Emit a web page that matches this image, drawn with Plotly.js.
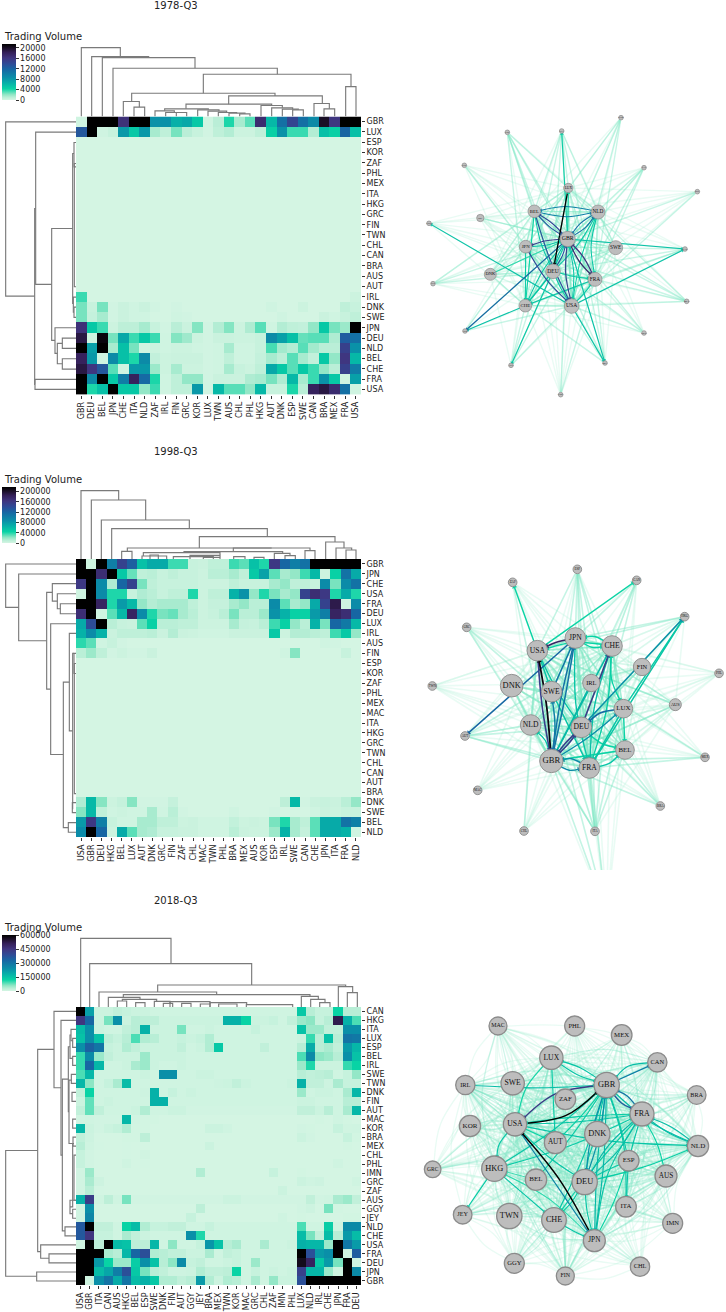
<!DOCTYPE html>
<html><head><meta charset="utf-8">
<script src="https://cdn.plot.ly/plotly-3.0.1.min.js"></script>
<style>html,body{margin:0;padding:0;background:#fff}#g{width:726px;height:1312px}</style>
</head><body><div id="g"></div>
<script>
// ---------- data: 1978-Q3 (values in thousands) ----------
const cols78=["GBR","DEU","BEL","JPN","CHE","ITA","NLD","ZAF","IRL","FIN","GRC","KOR","LUX","TWN","AUS","CHL","PHL","HKG","AUT","DNK","ESP","SWE","CAN","BRA","MEX","FRA","USA"];
const rows78=["GBR","LUX","ESP","KOR","ZAF","PHL","MEX","ITA","HKG","GRC","FIN","TWN","CHL","CAN","BRA","AUS","AUT","IRL","DNK","SWE","JPN","DEU","NLD","BEL","CHE","FRA","USA"];
const sp=(cols,o)=>cols.map(c=>o[c]||0);
const S1=o=>sp(cols78,o),S2=o=>sp(cols98,o),S3=o=>sp(cols18,o);
const z78=[
[0.2,22,22,22,16.5,22,22,8.5,8.5,6.5,7,5,0.2,1,4,1.5,3,17,6,11,14.5,11,9,20,16,22,22],
[13,22,0.2,0.5,8,5,8,1.5,0.8,2.5,1,0.5,0.1,0.8,1.2,0.3,0.3,0.8,4.5,8.5,3.5,3.5,1.2,5.5,4.5,12,5.5],
S1({}),S1({}),S1({}),S1({}),S1({}),S1({}),S1({}),S1({}),S1({}),S1({}),S1({}),S1({}),S1({}),S1({}),S1({}),
S1({GBR:3.5,USA:.3}),
S1({GBR:2.5,DEU:.5,BEL:2.5,JPN:.1,CHE:.4,ITA:.2,NLD:.4,ZAF:.1,FIN:.1,AUT:.2,SWE:.3,FRA:.8,USA:.5}),
S1({GBR:2.5,DEU:.6,BEL:1.5,JPN:.1,CHE:.4,ITA:.2,NLD:.2,FIN:.2,GRC:.1,DNK:.2,BRA:.4,MEX:.2,FRA:.5,USA:.8}),
[16.5,5,3.5,.3,.9,.9,1.5,.5,.1,1,.4,2.3,.1,1.2,2.3,.3,1.3,3,.2,1.2,.8,.7,2,5,2.5,1.8,22],
[19,.2,21,2.5,7,3.5,5,3.5,.2,2.3,1.7,.3,.1,.4,.4,.3,.3,.5,9,7.5,5.5,2.8,3,3,1.3,12.5,11],
[22,7.5,22,1.5,5.5,2.5,.2,.3,.2,.3,.3,.2,.1,.2,1.5,.2,.2,.5,3.3,1.6,1.2,3,1.6,1,1,15,8.5],
[18,8,.2,9,5.5,4,9,.7,.3,.4,.4,.4,.1,.2,.8,.2,.2,.6,1.5,.9,3,1.5,.7,5,2,16,6],
[19,16,13,3,.2,8,8,1.8,.3,1.5,.3,.3,.1,.2,1.5,.5,.3,.8,7,5,3,5,3.5,2,1,15,10],
[22,9,22,5,10,18,11.5,4,.2,.8,2,2,.1,.4,.4,.4,1.3,1.5,2.5,1.3,6,1.5,3.5,8.5,5,.2,7.5],
[22,4,5.5,22,5,5,2,3.5,.2,.8,.8,8,.1,6,3,3,2,6,.5,.5,4,1,18,19,17,11,.2]];
// ---------- data: 1998-Q3 (values in ten-thousands) ----------
const cols98=["USA","GBR","DEU","HKG","BEL","LUX","AUT","DNK","GRC","FIN","ZAF","CHL","MAC","TWN","PHL","BRA","MEX","AUS","KOR","ESP","IRL","SWE","CAN","CHE","JPN","ITA","FRA","NLD"];
const rows98=["GBR","JPN","CHE","USA","FRA","DEU","LUX","IRL","AUS","FIN","ESP","KOR","ZAF","PHL","MEX","MAC","ITA","HKG","GRC","TWN","CHL","CAN","AUT","BRA","DNK","SWE","BEL","NLD"];
const z98=[
[22,.2,22,10,15,12.5,5.5,7,7,3.5,3.5,.5,.4,.8,.8,3.5,3,5.5,4,16,12,10,11,22,22,22,22,22],
[22,22,17,22,5,2.8,.8,1,.5,.8,.5,.5,.3,1,1,1.5,.8,5,7.5,3,1.5,2,3.5,6,.3,4.5,11,7],
[16,22,9,1.3,12,15,2.5,.8,.5,.5,.5,.5,.3,.3,.3,.8,.5,.5,.5,1.5,2,.8,.8,.5,9,2.5,9,11],
[.2,22,9,4,4,.5,1.3,1,.5,.8,.8,4,.3,.8,.8,6.5,8.5,2,4,2.5,1.5,2,15,17,16,4,7,4],
[22,22,18,4,8,6,2,1.2,1.5,1.5,1.5,.8,.3,.6,.6,1.5,2,1,1,9,3,1.5,2,7,15,19,.2,9],
[17,22,.2,3,6,18,9,4,2.5,2.8,1.5,1,.3,.5,1,2.5,1,1,1.8,8.5,6.5,4.5,4.5,8,10,18,17,12],
[7,14,22,1,.5,.4,3,4.5,1,1,.8,.8,.3,.3,.3,1.5,.6,.5,1,3.5,4.5,2,1,6.5,2.5,12,10.5,6],
[6.5,9,6.5,.4,.8,.8,.8,1,.4,1.2,.4,.3,.2,.2,.2,.4,.4,.4,.4,5,.3,1.2,1.2,1,.8,3.5,5,2],
S2({USA:3.8,GBR:3,DEU:.2,HKG:.5,BEL:.1,JPN:.2,ITA:.1}),
S2({USA:1,GBR:1.8,DEU:.8,HKG:.1,BEL:.3,LUX:.1,AUT:.1,DNK:.4,IRL:.2,SWE:2.3,FRA:.5}),
S2({}),S2({}),S2({}),S2({}),S2({}),S2({}),S2({}),S2({}),S2({}),S2({}),S2({}),S2({}),S2({}),S2({}),
S2({USA:1.3,GBR:6,DEU:2.3,HKG:.3,BEL:.6,LUX:2.3,AUT:.1,DNK:.1,GRC:.1,FIN:.6,IRL:.9,SWE:6,CAN:.1,CHE:.4,JPN:.5,ITA:.4,FRA:1,NLD:2}),
S2({USA:2.3,GBR:6,DEU:.8,HKG:.2,BEL:.3,LUX:.2,AUT:.2,DNK:1.5,GRC:.2,FIN:1,ZAF:.1,BRA:.2,ESP:.1,CHE:.2,JPN:.4,ITA:.3,FRA:.5,NLD:.5}),
[8,16,10,.5,.2,.2,1.5,1.5,.8,.8,.3,.4,.2,.2,.2,.7,.3,.4,.3,2.5,4,1.5,.8,3,7,7,11,10],
[9,22,12,.3,7,3,1.5,1.3,.5,.5,.4,.4,.2,.2,.2,1,.4,.3,.3,1.8,6.5,1.5,.6,3,7,7,6.5,.2]];
// ---------- data: 2018-Q3 (values in ten-thousands) ----------
const cols18=["USA","GBR","ITA","CAN","AUS","HKG","BEL","ESP","SWE","DNK","FIN","AUT","GGY","JEY","BRA","MEX","TWN","KOR","MAC","GRC","CHL","ZAF","IMN","PHL","LUX","NLD","IRL","CHE","JPN","FRA","DEU"];
const rows18=["CAN","HKG","ITA","LUX","ESP","BEL","IRL","SWE","TWN","DNK","FIN","AUT","MAC","KOR","BRA","MEX","CHL","PHL","IMN","GRC","ZAF","AUS","GGY","JEY","NLD","CHE","USA","FRA","DEU","JPN","GBR"];
const z18=[
[60,21,1,1,2,1.5,1,1,.5,.5,.5,.5,.5,.5,.5,.5,.5,.5,.5,.5,.5,.5,.5,.5,14,3,1.5,1.5,12,3,3],
[45,33,1,7,24,1,3,2.5,2.5,1,1,1,1,1,1,1,18,18,12,1,1,1.5,.5,2,5,6,1.5,3,52,18,9],
[16,24,1,.5,.5,2,3,18,1,1,1,7,.5,.5,1,.5,.5,.5,.5,1.5,.5,.5,.5,.5,15,5,5,2,2,24,24],
[15,24,15,2.5,1.5,3,9,3.5,3,1,1,1.5,1,1.5,3.5,.5,.5,.5,.5,.5,.5,.5,.5,.5,1,10,3,15,3,30,29],
[24,34,30,1.5,1,3.5,2,1,1,1,1,2,.5,1,3.5,14,.5,.5,.5,.5,2,.5,.5,.5,3,19,3,4,2,22,17],
[10,25,5,2,1,1,1,5,1,1,1,1,.5,.5,.5,.5,.5,.5,.5,.5,.5,.5,.5,.5,9,25,6,5,3,24,15],
[10,33,17,.5,.5,1,4,5,1,.5,.5,1,.5,.5,.5,.5,.5,.5,.5,.5,.5,.5,.5,.5,5,11,1,1,1,10,12],
[9,17,.5,.5,.5,.5,.5,1,.5,24,24,.5,.5,1,1,.5,.5,.5,.5,.5,.5,.5,.5,.5,3,2,2.5,3,.5,1.5,5.5],
[17,6,.5,1.5,4,16,.5,.5,.5,.5,.5,.5,.5,.5,.5,.7,1,2,1,.5,.5,.5,.5,1,18,2,2,.8,4,1.5,1.5],
[2,12,.5,.5,.5,.5,.5,.8,18,.5,1.5,.5,1,.5,.5,.5,.5,.5,.5,.5,.5,.5,.5,.5,5,.5,1,1,.5,4,17],
[1,8,.5,1,.5,.5,.5,.5,18,18,.5,.5,.5,.5,.5,.5,.5,.5,.5,.5,.5,.5,.5,.5,1,1,.5,.5,.5,3,3],
[2,8,2,.5,.5,.5,1,3.5,.5,.5,1,1,.3,.3,.3,.3,.3,.3,.3,.3,.3,.3,.3,.3,2,2,1,3,.5,4,17],
S3({USA:.3,GBR:.5,ITA:.3,CAN:.3,AUS:.3,HKG:17,BEL:.3,ESP:.2,SWE:.2,IRL:.2,JPN:.5,FRA:.2}),
S3({USA:17,GBR:1,ITA:.3,CAN:1,AUS:1.5,HKG:3.5,BEL:.2,ESP:.2,BRA:1,MEX:1,TWN:.5,LUX:.3,NLD:.2,JPN:1.5,FRA:.4,DEU:.5}),
S3({USA:2,GBR:.8,ESP:2.5,BEL:.2,HKG:.2,LUX:1,NLD:.3,FRA:1.5,DEU:.2}),
S3({USA:3,GBR:.5,BRA:1,ITA:.1,HKG:.1,FRA:.2}),
S3({USA:1.5,GBR:.3,ESP:.4,HKG:.1}),
S3({USA:1.5,GBR:.3,HKG:.5,JPN:.5,ESP:.1}),
S3({USA:.3,GBR:5,JEY:3.5,ZAF:1.5,LUX:.2}),
S3({USA:.3,GBR:4,ITA:.8,LUX:1,NLD:.5,IRL:.7,DEU:.5}),
S3({USA:.3,GBR:3,IMN:1,ITA:.1}),
[18,43,.5,2.5,.5,7,.3,.3,.3,.3,.3,.3,.3,.3,.3,.3,1,1,.3,.3,.3,.3,.3,.3,.3,2,.3,.5,4,5,2],
S3({USA:.5,GBR:24,JEY:2.5,NLD:.7,CHE:7,LUX:.3,JPN:.2}),
S3({USA:.5,GBR:26,GGY:1.5,IMN:.5,LUX:.2,FRA:.2,DEU:.2}),
[36,60,2,2,.5,12,16,3.5,1.5,1.5,2,2,.5,.5,1.5,.5,.5,.5,.5,.5,.5,.5,.5,.5,9,.5,.5,13,.5,25,25],
[36,45,1.5,1.5,.5,4,2,1,.5,.5,.5,.5,24,11,.5,.5,.5,.5,.5,.5,.5,.5,.5,.5,16,7,2,16,3,22,16],
[.5,60,2.5,60,16,15,2.5,2.5,17,.5,6,.5,.5,1.5,23,15,3,4,.5,.5,4,.5,.5,1,18,17,17,5,60,29,22],
[60,60,60,4,3,17,33,38,3.5,3,2,2,1,1,4,.5,2,1.5,.5,.5,.5,.5,.5,.5,60,38,22,24,60,.5,35],
[60,60,22,12,5,5,13,24,15,3,6,25,1.5,2,.5,.5,1,1.5,.5,5,.5,.5,.5,.5,57,50,14,22,7,60,.5],
[60,60,16,20,28,38,14,7,3,2,.8,.8,1,3.5,2,2,2.5,12,.5,1.5,.5,1,.5,1,42,17,17,5,.5,60,25],
[60,.5,24,30,19,30,16,18,14,3.5,3.5,2,3,22,3.5,1,3.5,3,.5,4,.5,5.5,1,1,38,60,60,60,60,60,60]];

// ---------- dendrograms: [a, b, height, baseA, baseB] ----------
const top78=[[34,151,23,null,50],[65,236,50,null,53],[97,375,53,null,85],[129,622,85,null,103],[400,843,103,160,140],[827,858,140],[185,615,160,185,168],[160,208,185,null,202],[192,224,202],[476,757,168,193,191],[348,605,193,207,197],[284,415,207,213,210],[255,313,213,null,218],[287,335,218,null,218],[319,350,218],[383,447,210,null,214],[414,470,214,null,218],[445,500,218,null,220],[477,525,220,null,222],[509,540,222],[573,637,197,null,204],[605,668,204,null,208],[637,685,208,null,210],[668,700,210],[732,778,191,null,207],[762,794,207]];
const left78=[[365,888,17,null,104],[625,1153,104,107,105],[396,853,107,null,155],[1138,1168,105],[685,1021,155,218,165],[460,910,218,222,220],[983,1060,165,null,172],[1030,1091,172,187,187],[1014,1045,187],[1076,1107,187],[427,500,222],[490,860,223],[891,936,220,null,222],[921,952,222]];
const top98=[[33,146,32,null,60],[64,227,60,null,120],[94,358,120,null,146],[125,592,146,null,170],[388,795,170,204,186],[767,822,186,null,204],[798,845,204,null,210],[828,858,210],[172,605,204,214,204],[155,186,214],[490,720,204,215,212],[705,735,212],[342,638,215,218,220],[220,450,218,228,226],[216,290,228],[240,265,225],[310,430,230],[360,450,226,null,232],[400,450,232],[491,525,230],[552,582,232],[613,660,220,null,227],[645,676,227]];
const left98=[[42,172,17,null,56],[72,272,56,null,140],[127,417,140,157,152],[101,153,157,null,172],[131,176,172,null,181],[161,191,181],[221,613,152,null,190],[396,832,190,208,205],[250,542,208,null,218],[310,775,218,222,217],[310,370,222],[340,730,223],[757,787,217],[817,846,205]];
const top18=[[32,303,25,null,101],[59,545,101,null,165],[263,827,165,186,170],[805,848,170,null,188],[832,862,188],[87,440,186,null,194],[160,720,194,203,199],[694,745,199,null,208],[722,765,208,null,218],[749,780,218],[115,210,202,null,208],[157,260,208,213,214],[142,170,213],[197,225,218],[253,300,214,null,220],[280,308,220],[300,420,215,null,222],[335,363,220],[391,420,222],[420,530,218,null,222],[446,501,222],[529,668,224]];
const left18=[[451,828,17,113,110],[815,842,110],[148,754,113,162,122],[34,263,162,null,183],[61,465,183,null,187],[237,692,187,205,195],[680,707,195],[140,335,205,210,207],[105,175,210,213,218],[88,122,213,null,218],[115,142,218],[169,196,218],[223,250,214],[277,304,216],[240,430,207,214,218],[357,384,218],[411,438,219],[430,620,218,222,210],[465,600,222],[600,640,210,null,218],[627,654,218],[734,774,122,null,147],[761,788,147]];

// ---------- networks: node layouts ----------
const net78={n:["GBR","LUX","BEL","NLD","JPN","SWE","DEU","FRA","DNK","CHE","USA","IRL","ITA","ESP","KOR","ZAF","PHL","CAN","MEX","HKG","BRA","GRC","AUT","AUS","FIN","TWN","CHL"],
x:[503,505,403,594,377,647,459,585,271,376,515,241,485,322,663,732,892,855,860,732,615,482,333,195,99,87,193],
y:[387,234,304,306,410,413,484,508,493,587,588,324,63,67,23,173,245,417,574,669,759,854,766,663,521,340,166],
d:[46,28,38,42,38,42,44,42,36,38,44,22,14,14,14,14,14,14,14,14,14,14,14,14,14,14,14]};
const net98={n:["JPN","USA","CHE","FIN","DNK","SWE","IRL","LUX","AUS","NLD","DEU","BEL","GBR","FRA","ESP","ZAF","CAN","HKG","GRC","PHL","TWN","AUT","MEX","MAC","BRA","CHL","ITA","KOR"],
x:[496,382,606,696,305,425,544,640,796,362,514,645,424,538,502,308,680,824,170,927,67,165,885,203,751,342,555,590],
y:[264,302,288,351,407,425,399,476,464,525,532,600,633,654,58,97,91,200,232,370,408,558,622,721,768,843,844,1090],
d:[62,62,62,52,68,62,52,56,36,62,62,56,70,62,26,26,26,26,26,26,26,26,26,26,26,26,26,26]};
const net18={n:["GBR","LUX","MAC","PHL","MEX","CAN","BRA","IRL","SWE","ZAF","FRA","KOR","USA","DNK","AUT","NLD","GRC","HKG","ESP","AUS","BEL","DEU","JEY","TWN","ITA","CHE","IMN","JPN","GGY","CHL","FIN"],
x:[590,424,264,494,635,742,860,166,308,466,696,180,315,562,436,864,68,253,656,768,378,524,158,298,648,432,788,553,313,690,466],
y:[255,173,78,78,105,187,285,255,250,298,342,378,373,402,428,438,508,506,482,528,539,546,644,648,620,660,670,722,790,800,828],
d:[76,70,54,60,62,58,56,58,70,62,72,64,70,76,66,64,50,76,62,66,64,76,56,76,62,74,60,66,60,58,54]};
// strong edges: [source, target, share of peak volume, bow]
const edges78=[["LUX","DEU",1,0],["GBR","LUX",.25,0],["GBR","ITA",.28,0],["BEL","NLD",.45,.08],["NLD","BEL",.45,.08],["GBR","BEL",.65,.05],["BEL","GBR",.6,.05],["GBR","NLD",.5,.08],["NLD","GBR",.5,.08],["GBR","JPN",.7,.05],["JPN","GBR",.3,.05],["GBR","DEU",.35,.06],["DEU","GBR",.6,.06],["GBR","FRA",.8,.06],["FRA","GBR",.75,.06],["GBR","USA",.7,.06],["USA","GBR",.3,.06],["GBR","CHE",.3,.05],["CHE","GBR",.3,.05],["GBR","CAN",.32,0],["USA","CAN",.32,0],["USA","TWN",.32,0],["USA","BRA",.32,0],["GBR","BRA",.32,0],["GBR","AUS",.55,0],["CHE","AUS",.32,0],["DEU","AUT",.3,0],["JPN","USA",.65,.05],["BEL","USA",.62,.03],["BEL","CHE",.25,0],["DEU","FRA",.28,.03],["USA","FRA",.28,.03],["FRA","CHE",.3,0],["DEU","USA",.3,.03],["DEU","CHE",.3,0],["JPN","CHE",.28,0],["BEL","DEU",.3,.05],["NLD","FRA",.3,.08],["DEU","NLD",.3,.05],["DNK","GBR",.22,0],["NLD","USA",.25,.04]];
const edges98=[["GBR","USA",.97,.02],["JPN","USA",.82,.05],["USA","GBR",.7,.02],["GBR","JPN",.5,.01],["SWE","JPN",.48,0],["GBR","SWE",.45,.05],["DEU","CHE",.72,0],["DEU","HKG",.4,0],["FRA","HKG",.3,0],["LUX","HKG",.28,0],["USA","CAN",.25,0],["JPN","AUT",.55,0],["USA","ZAF",.25,0],["LUX","DEU",.55,.12],["GBR","DEU",.7,.03],["DEU","GBR",.7,.03],["GBR","LUX",.4,.03],["GBR","CHE",.35,0],["GBR","FRA",.42,.15],["FRA","GBR",.42,.15],["GBR","NLD",.3,.12],["JPN","FRA",.3,.05],["JPN","GBR",.5,.02],["USA","DEU",.3,.03],["SWE","FRA",.3,0],["IRL","GBR",.35,0],["CHE","FRA",.32,.05],["LUX","FRA",.3,0],["LUX","BEL",.25,0],["BEL","GBR",.25,0],["DEU","BEL",.25,.1],["CHE","LUX",.25,.1],["USA","SWE",.3,0],["JPN","CHE",.25,.15],["CHE","JPN",.25,.15],["CHE","USA",.25,.08],["FRA","BEL",.3,.12],["FRA","CHE",.27,.05]];
const edges18=[["USA","GBR",1,.12],["GBR","USA",.72,.12],["JPN","USA",1,.04],["GBR","FRA",.6,.1],["FRA","GBR",.5,.1],["GBR","CAN",.45,0],["CAN","GBR",.33,.15],["GBR","NLD",.33,.06],["FRA","NLD",.33,.05],["NLD","FRA",.33,.05],["GBR","JPN",.35,.02],["JPN","GBR",.35,.02],["DEU","GBR",.4,.04],["GBR","DEU",.4,.04],["GBR","DNK",.32,.02],["FRA","DEU",.35,.06],["DEU","FRA",.33,.06],["FRA","JPN",.3,.08],["FRA","ITA",.3,.05],["GBR","LUX",.3,.06],["LUX","GBR",.3,.06],["LUX","AUT",.28,0],["USA","DEU",.3,.04],["USA","JPN",.45,0],["USA","HKG",.3,.12],["HKG","CHE",.3,0],["HKG","JEY",.28,0],["IRL","GBR",.33,.02],["USA","FRA",.3,.02],["USA","NLD",.3,.03],["DEU","JPN",.3,.04],["HKG","GBR",.3,.03],["HKG","FRA",.28,.03],["CHE","GBR",.3,.03],["CHE","JPN",.3,.02],["ESP","GBR",.28,.02],["ESP","DEU",.28,.02],["BEL","GBR",.28,.02],["AUS","FRA",.25,.05],["DNK","DEU",.3,.05],["DEU","NLD",.27,.03],["ITA","GBR",.3,.06],["JPN","ESP",.25,.03],["FRA","USA",.28,.02],["FRA","CHE",.27,.02],["LUX","USA",.24,.1],["AUT","GBR",.25,.02],["USA","AUT",.25,0],["CHE","DEU",.27,.05],["BEL","HKG",.2,0],["JPN","HKG",.22,.06]];

// ---------- colours ----------
const scale=[[0,'#d4f5e3'],[.05,'#b8eed6'],[.1,'#8de6c4'],[.2,'#08d3a5'],[.3,'#06b1a8'],[.4,'#0a8fa8'],[.55,'#1766a3'],[.65,'#2f4a96'],[.75,'#40357f'],[.85,'#341f58'],[.93,'#1a0f26'],[1,'#000000']];
function cmap(t){t=Math.max(0,Math.min(1,t));for(let i=1;i<scale.length;i++){if(t<=scale[i][0]){const a=scale[i-1],b=scale[i],f=(t-a[0])/(b[0]-a[0]);const p=h=>[1,3,5].map(k=>parseInt(h.substr(k,2),16));const A=p(a[1]),B=p(b[1]);return 'rgb('+A.map((v,k)=>Math.round(v+(B[k]-v)*f)).join(',')+')';}}return '#000';}

const W=726,H=1312,dom=(a,b)=>[a/W,b/W],vdom=(a,b)=>[1-b/H,1-a/H];
const tf={family:'"DejaVu Sans"',size:8,color:'#222'};
const traces=[],layout={width:W,height:H,margin:{l:0,r:0,t:0,b:0},paper_bgcolor:'#fff',plot_bgcolor:'rgba(0,0,0,0)',showlegend:false,annotations:[]};
const hidden={visible:false,showgrid:false,zeroline:false,fixedrange:true};

function dendro(links,vertical,base,ax,ay){
  const X=[],Y=[];
  links.forEach(l=>{const [a,b,h,ba,bb]=l;const A=(ba==null)?base:ba,B=(bb==null)?base:bb;
    if(vertical){X.push(A,h,h,B,null);Y.push(a,a,b,b,null);}
    else{X.push(a,a,b,b,null);Y.push(A,h,h,B,null);}});
  traces.push({type:'scatter',mode:'lines',x:X,y:Y,xaxis:ax,yaxis:ay,line:{color:'#7a7a7a',width:1.15},hoverinfo:'skip'});
}
function network(net,rows,cols,z,peak,edges,ax,ay,o){
  const idx={};net.n.forEach((s,i)=>idx[s]=i);
  function seg(a,b,c){const i=idx[a],j=idx[b];const x0=net.x[i],y0=net.y[i],x1=net.x[j],y1=net.y[j];
    const dx=x1-x0,dy=y1-y0;const mx=(x0+x1)/2-dy*c,my=(y0+y1)/2+dx*c;
    const ex=x1-mx,ey=y1-my,L=Math.hypot(ex,ey)||1,r=net.d[j]/2+1;
    return {x:[x0,mx,x1-ex/L*r],y:[y0,my,y1-ey/L*r],ang:Math.atan2(ex,-ey)*180/Math.PI};}
  const lw={x:[],y:[]},lm={x:[],y:[]};
  rows.forEach((r,i)=>cols.forEach((c,j)=>{const v=z[i][j];if(!(v>0)||r===c)return;
    const s=seg(r,c,o.lightBow);const b=(v/peak>o.medium)?lm:lw;b.x.push(...s.x,null);b.y.push(...s.y,null);}));
  traces.push({type:'scatter',mode:'lines',x:lw.x,y:lw.y,xaxis:ax,yaxis:ay,line:{color:'rgba(170,238,212,'+o.a1+')',width:o.w,shape:'spline',smoothing:1},hoverinfo:'skip'});
  traces.push({type:'scatter',mode:'lines',x:lm.x,y:lm.y,xaxis:ax,yaxis:ay,line:{color:'rgba(125,230,196,'+o.a2+')',width:o.w,shape:'spline',smoothing:1},hoverinfo:'skip'});
  const ar={x:[],y:[],a:[],c:[]};
  edges.slice().sort((p,q)=>p[2]-q[2]).forEach(e=>{const s=seg(e[0],e[1],e[3]);const col=cmap(e[2]<.4?e[2]*.8:e[2]);
    traces.push({type:'scatter',mode:'lines',x:s.x,y:s.y,xaxis:ax,yaxis:ay,line:{color:col,width:o.sw*(1+.5*e[2]),shape:'spline',smoothing:1},hoverinfo:'skip'});
    ar.x.push(s.x[2]);ar.y.push(s.y[2]);ar.a.push(s.ang);ar.c.push(col);});
  traces.push({type:'scatter',mode:'markers',x:ar.x,y:ar.y,xaxis:ax,yaxis:ay,marker:{symbol:'triangle-up',size:o.arrow,opacity:1,angle:ar.a,color:ar.c,line:{width:0}},hoverinfo:'skip'});
  traces.push({type:'scatter',mode:'markers+text',x:net.x,y:net.y,xaxis:ax,yaxis:ay,text:net.n,textposition:'middle center',cliponaxis:true,
    textfont:{family:'"Liberation Serif"',color:'#111',size:net.d.map(d=>Math.max(o.minFont,d/3*o.fr))},
    marker:{size:net.d.map(d=>d/3),sizemode:'diameter',opacity:1,color:o.fill,line:{color:'#8b8b8b',width:o.bw}},hoverinfo:'skip'});
}
const panels=[
 {title:'1978-Q3',ty:6,cols:cols78,rows:rows78,z:z78,unit:1000,zmax:21500,dt:4000,hy:[116.5,394.7],cb:[44,100],tvy:36,
  top:top78,topCrop:[40,230],left:left78,leftCrop:[0,349,1184],net:net78,edges:edges78,netBox:[400,110,326,290],
  o:{lightBow:0,medium:.09,a1:.26,a2:.42,w:1.4,sw:.9,arrow:3.5,fr:.38,minFont:2.5,fill:'#bdbdbd',bw:.7}},
 {title:'1998-Q3',ty:451,cols:cols98,rows:rows98,z:z98,unit:10000,zmax:218000,dt:40000,hy:[559,837.3],cb:[487,543],tvy:479,
  top:top98,topCrop:[480,237],left:left98,leftCrop:[550,27,861],net:net98,edges:edges98,netBox:[410,550,316,320],
  o:{lightBow:0,medium:.09,a1:.26,a2:.45,w:1.6,sw:1.2,arrow:4.5,fr:.37,minFont:3,fill:'#bdbdbd',bw:.9}},
 {title:'2018-Q3',ty:900,cols:cols18,rows:rows18,z:z18,unit:10000,zmax:600000,dt:150000,hy:[1007,1285.3],cb:[935,991],tvy:927,
  top:top18,topCrop:[930,231],left:left18,leftCrop:[1000,21,855],net:net18,edges:edges18,netBox:[410,1000,316,312],
  o:{lightBow:.1,medium:.05,a1:.26,a2:.38,w:1.3,sw:1,arrow:3.5,fr:.33,minFont:5,fill:'#bdbdbd',bw:1.3}}
];
panels.forEach((p,k)=>{
  const hx='x'+(k*4+1),hy='y'+(k*4+1),tx='x'+(k*4+2),ty='y'+(k*4+2),lx='x'+(k*4+3),ly='y'+(k*4+3),nx='x'+(k*4+4),ny='y'+(k*4+4);
  const key=s=>s.replace('x','xaxis').replace('y','yaxis');
  traces.push({type:'heatmap',x:p.cols,y:p.rows,z:p.z.map(r=>r.map(v=>v*p.unit)),xaxis:hx,yaxis:hy,zmin:0,zmax:p.zmax,colorscale:scale,hoverinfo:'skip',
    colorbar:{x:2/W,xanchor:'left',xref:'paper',y:1-p.cb[0]/H,yanchor:'top',yref:'paper',len:p.cb[1]-p.cb[0],lenmode:'pixels',thickness:14,thicknessmode:'pixels',xpad:0,ypad:0,outlinewidth:0,borderwidth:0,tick0:0,dtick:p.dt,tickformat:'d',ticks:'outside',ticklen:3,tickcolor:'#333',tickfont:tf}});
  layout[key(hx)]={domain:dom(76,361),anchor:hy,type:'category',categoryorder:'array',categoryarray:p.cols,tickmode:'array',tickvals:p.cols,ticktext:p.cols,tickangle:-90,tickfont:tf,ticks:'outside',ticklen:3,tickcolor:'#333',showgrid:false,zeroline:false,showline:false,fixedrange:true};
  layout[key(hy)]={domain:vdom(p.hy[0],p.hy[1]),anchor:hx,side:'right',type:'category',categoryorder:'array',categoryarray:p.rows.slice().reverse(),tickmode:'array',tickvals:p.rows,ticktext:p.rows,tickfont:tf,ticks:'outside',ticklen:3,tickcolor:'#333',showgrid:false,zeroline:false,showline:false,fixedrange:true};
  // top dendrogram (axis units are the crop units)
  layout[key(tx)]={...hidden,domain:dom(76,361),range:[18,873],anchor:ty};
  layout[key(ty)]={...hidden,domain:vdom(p.topCrop[0],p.hy[0]),range:[p.topCrop[1],0],anchor:tx};
  dendro(p.top,false,p.topCrop[1],tx,ty);
  // left dendrogram
  layout[key(lx)]={...hidden,domain:dom(0,76),range:[0,228],anchor:ly};
  layout[key(ly)]={...hidden,domain:vdom(p.hy[0],p.hy[1]),range:[p.leftCrop[2],p.leftCrop[1]],anchor:lx};
  dendro(p.left,true,228,lx,ly);
  // network
  const b=p.netBox;
  layout[key(nx)]={...hidden,domain:dom(b[0],b[0]+b[2]),range:[0,b[2]*3],anchor:ny};
  layout[key(ny)]={...hidden,domain:vdom(b[1],b[1]+b[3]),range:[b[3]*3,0],anchor:nx};
  network(p.net,p.rows,p.cols,p.z.map(r=>r.map(v=>v*p.unit)),p.zmax,p.edges,nx,ny,p.o);
  layout.annotations.push({xref:'paper',yref:'paper',x:176/W,y:1-p.ty/H,xanchor:'center',yanchor:'middle',showarrow:false,text:p.title,font:{family:'"DejaVu Sans"',size:10,color:'#222'}});
  layout.annotations.push({xref:'paper',yref:'paper',x:2/W,y:1-p.tvy/H,xanchor:'left',yanchor:'middle',showarrow:false,text:'Trading Volume',font:{family:'"DejaVu Sans"',size:10,color:'#222'}});
});
Plotly.newPlot('g',traces,layout,{displayModeBar:false,staticPlot:true});
</script></body></html>
